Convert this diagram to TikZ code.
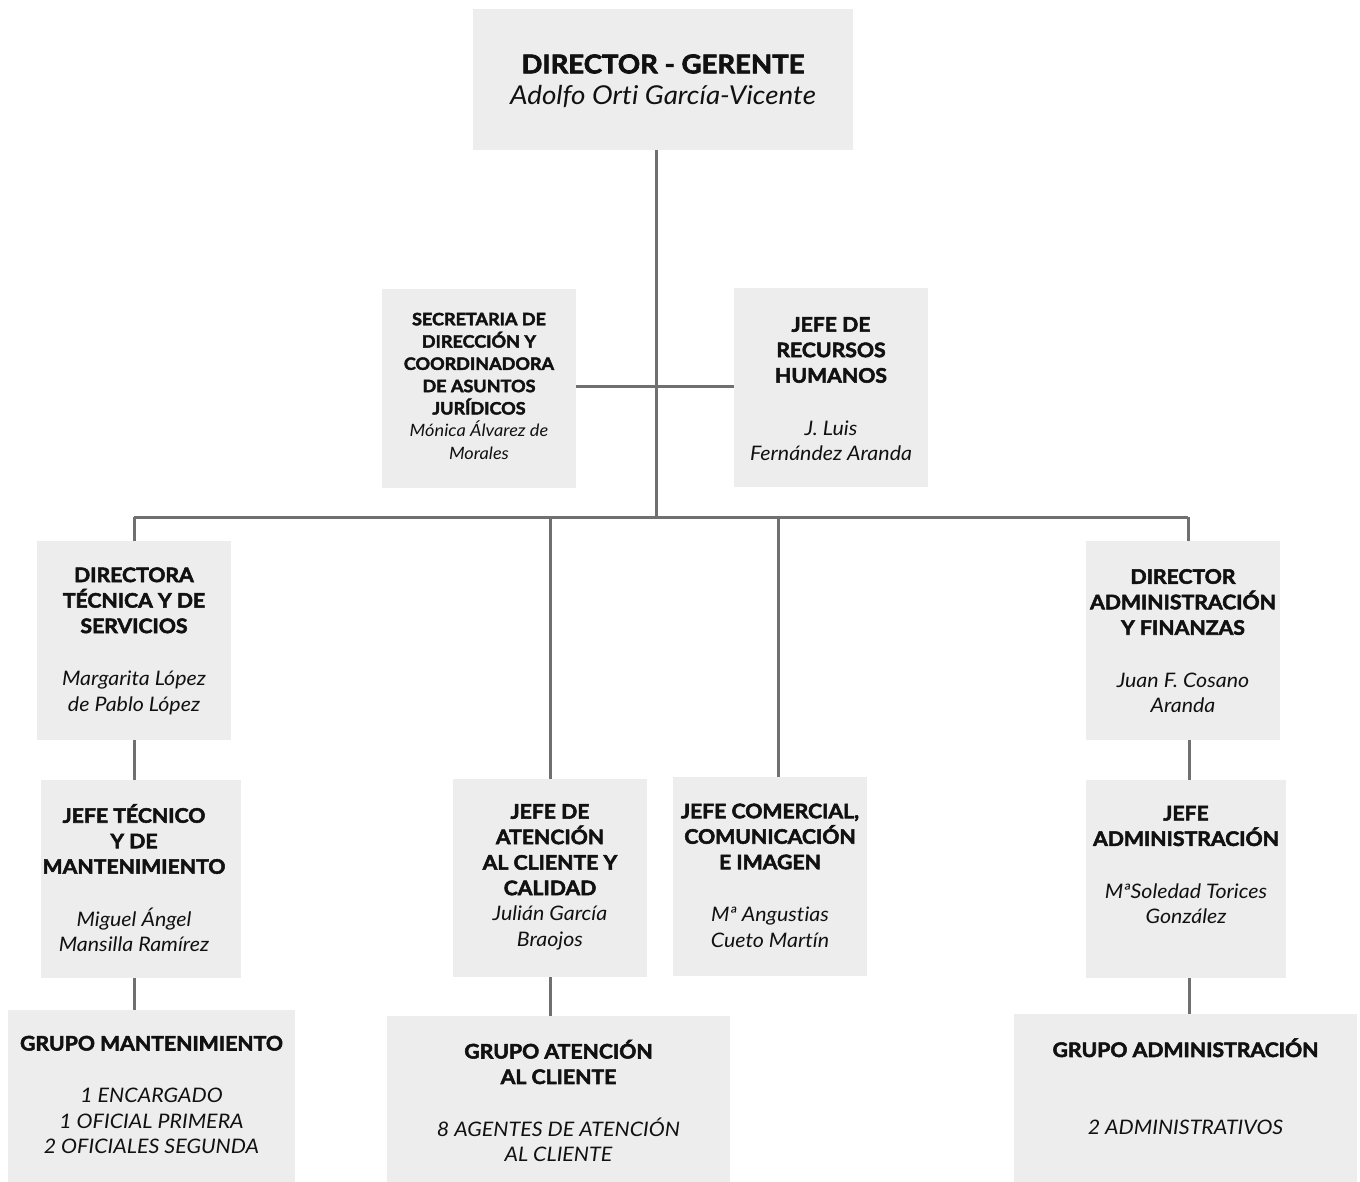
\documentclass[tikz,border=0pt]{standalone}
\usepackage{fontspec}
\setmainfont{Lato}[Ligatures={NoCommon},BoldFeatures={FakeBold=2.6,FakeStretch=1.06},ItalicFeatures={FakeStretch=1.07}]
\definecolor{boxgray}{HTML}{EDEDED}
\definecolor{linegray}{HTML}{707070}
\definecolor{txt}{HTML}{111111}
\begin{document}
\begin{tikzpicture}[x=1pt,y=-1pt,
  box/.style={fill=boxgray,draw=none,inner sep=0pt,rectangle},
  lbl/.style={align=center,inner sep=0pt,text=txt,font=\fontsize{20}{25.5}\selectfont},
  small/.style={align=center,inner sep=0pt,text=txt,font=\fontsize{17}{22.3}\selectfont},
  conn/.style={draw=linegray,line width=3pt}]
\useasboundingbox (0,0) rectangle (1360,1181);
\fill[white] (0,0) rectangle (1360,1181);
% boxes
\node[box,minimum width=380pt,minimum height=141pt] (dir) at (663,79.5) {};
\node[box,minimum width=194pt,minimum height=199pt] (sec) at (479,388.5) {};
\node[box,minimum width=194pt,minimum height=199pt] (rrhh) at (831,387.5) {};
\node[box,minimum width=194pt,minimum height=199pt] (dt) at (134,640.5) {};
\node[box,minimum width=194pt,minimum height=199pt] (da) at (1183,640.5) {};
\node[box,minimum width=200pt,minimum height=198pt] (jt) at (141,879) {};
\node[box,minimum width=194pt,minimum height=198pt] (ja) at (550,878) {};
\node[box,minimum width=194pt,minimum height=199pt] (jc) at (770,876.5) {};
\node[box,minimum width=200pt,minimum height=198pt] (jad) at (1186,879) {};
\node[box,minimum width=287pt,minimum height=172pt] (gm) at (151.5,1096) {};
\node[box,minimum width=343pt,minimum height=166pt] (ga) at (558.5,1099) {};
\node[box,minimum width=343pt,minimum height=168pt] (gad) at (1185.5,1098) {};
% texts
\node[lbl,font=\fontsize{26}{31}\selectfont] (tdir) at (663,81) {\textbf{DIRECTOR - GERENTE}\\ \textit{Adolfo Orti García-Vicente}};
\node[small] (tsec) at (479,386) {\textbf{SECRETARIA DE}\\ \textbf{DIRECCIÓN Y}\\ \textbf{COORDINADORA}\\ \textbf{DE ASUNTOS}\\ \textbf{JURÍDICOS}\\ \textit{Mónica Álvarez de}\\ \textit{Morales}};
\node[lbl] (trrhh) at (831,389) {\textbf{JEFE DE}\\ \textbf{RECURSOS}\\ \textbf{HUMANOS}\\[27pt] \textit{J. Luis}\\ \textit{Fernández Aranda}};
\node[lbl] (tdt) at (134,641) {\textbf{DIRECTORA}\\ \textbf{TÉCNICA Y DE}\\ \textbf{SERVICIOS}\\[27pt] \textit{Margarita López}\\ \textit{de Pablo López}};
\node[lbl] (tda) at (1183,641) {\textbf{DIRECTOR}\\ \textbf{ADMINISTRACIÓN}\\ \textbf{Y FINANZAS}\\[27pt] \textit{Juan F. Cosano}\\ \textit{Aranda}};
\node[lbl] (tjt) at (134,878) {\textbf{JEFE TÉCNICO}\\ \textbf{Y DE}\\ \textbf{MANTENIMIENTO}\\[27pt] \textit{Miguel Ángel}\\ \textit{Mansilla Ramírez}};
\node[lbl] (tja) at (550,877) {\textbf{JEFE DE}\\ \textbf{ATENCIÓN}\\ \textbf{AL CLIENTE Y}\\ \textbf{CALIDAD}\\ \textit{Julián García}\\ \textit{Braojos}};
\node[lbl] (tjc) at (770,875.5) {\textbf{JEFE COMERCIAL,}\\ \textbf{COMUNICACIÓN}\\ \textbf{E IMAGEN}\\[27pt] \textit{Mª Angustias}\\ \textit{Cueto Martín}};
\node[lbl] (tjad) at (1186,865) {\textbf{JEFE}\\ \textbf{ADMINISTRACIÓN}\\[27pt] \textit{MªSoledad Torices}\\ \textit{González}};
\node[lbl] (tgm) at (151.5,1095) {\textbf{GRUPO MANTENIMIENTO}\\[27pt] \textit{1 ENCARGADO}\\ \textit{1 OFICIAL PRIMERA}\\ \textit{2 OFICIALES SEGUNDA}};
\node[lbl] (tga) at (558.5,1101) {\textbf{GRUPO ATENCIÓN}\\ \textbf{AL CLIENTE}\\[27pt] \textit{8 AGENTES DE ATENCIÓN}\\ \textit{AL CLIENTE}};
\node[lbl] (tgad) at (1185.5,1086.5) {\textbf{GRUPO ADMINISTRACIÓN}\\[52pt] \textit{2 ADMINISTRATIVOS}};
% connector coordinates
\coordinate (c) at (656,517);
\coordinate (cm) at (656,386);
\coordinate (bL) at (134,517);
\coordinate (bA) at (550,517);
\coordinate (bC) at (778,517);
\coordinate (bR) at (1188,517);
\coordinate (rL) at (1189,740);
% connectors
\draw[conn] (dir.south -| c) -- (c);
\draw[conn] (sec.east |- cm) -- (rrhh.west |- cm);
\draw[conn] (bL) -- (bR);
\draw[conn] (bL) -- (bL |- dt.north);
\draw[conn] (bA) -- (bA |- ja.north);
\draw[conn] (bC) -- (bC |- jc.north);
\draw[conn] (bR) -- (bR |- da.north);
\draw[conn] (dt.south -| bL) -- (jt.north -| bL);
\draw[conn] (jt.south -| bL) -- (gm.north -| bL);
\draw[conn] (ja.south -| bA) -- (ga.north -| bA);
\draw[conn] (da.south -| rL) -- (jad.north -| rL);
\draw[conn] (jad.south -| rL) -- (gad.north -| rL);
\end{tikzpicture}
\end{document}
